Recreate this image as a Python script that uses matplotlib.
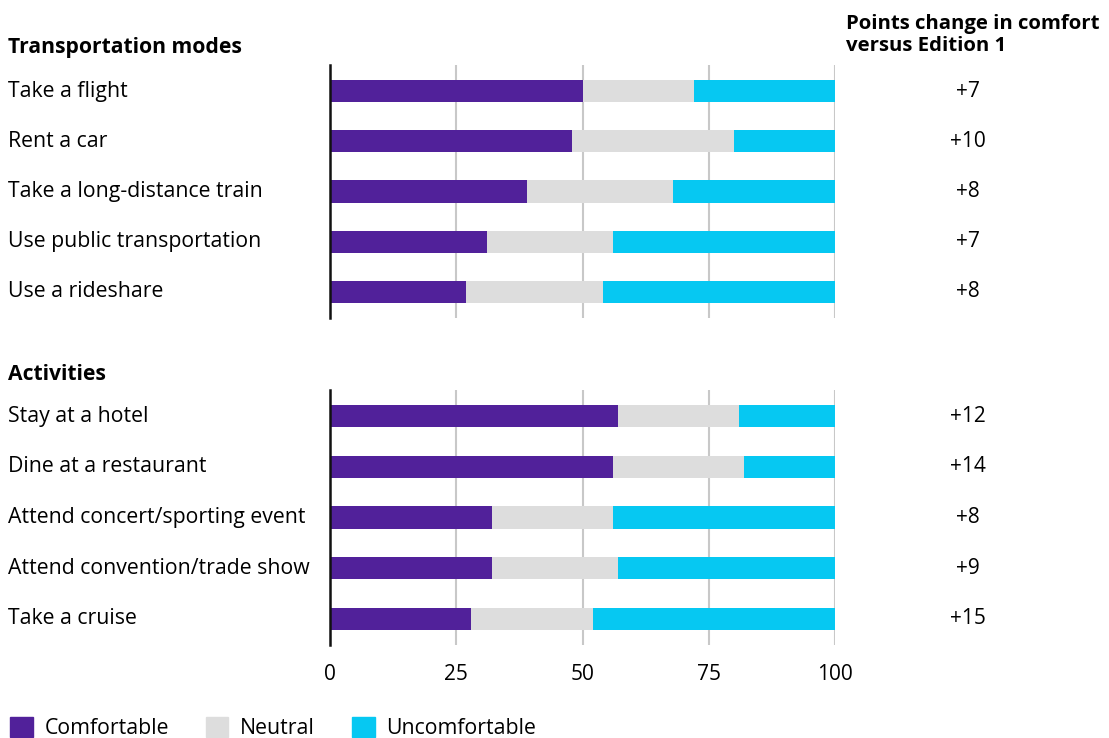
import matplotlib.pyplot as plt
import matplotlib.transforms as mtransforms
from matplotlib.patches import Patch

plt.rcParams['font.family'] = ['Open Sans', 'Noto Sans', 'DejaVu Sans']

# comfort survey shares (percent)
transport_labels = ["Take a flight", "Rent a car", "Take a long-distance train",
                    "Use public transportation", "Use a rideshare"]
transport_comfortable = [50, 48, 39, 31, 27]
transport_neutral = [22, 32, 29, 25, 27]
transport_uncomfortable = [28, 20, 32, 44, 46]
transport_change = ["+7", "+10", "+8", "+7", "+8"]

activity_labels = ["Stay at a hotel", "Dine at a restaurant", "Attend concert/sporting event",
                   "Attend convention/trade show", "Take a cruise"]
activity_comfortable = [57, 56, 32, 32, 28]
activity_neutral = [24, 26, 24, 25, 24]
activity_uncomfortable = [19, 18, 44, 43, 48]
activity_change = ["+12", "+14", "+8", "+9", "+15"]

C_COMF = "#51219A"
C_NEUT = "#DDDDDD"
C_UNC = "#06C8F2"
FS = 15.3

W, H = 1109, 738
fig = plt.figure(figsize=(W / 100, H / 100), dpi=100)


def px_axes(x0, y0, x1, y1):
    # y measured from the top of the figure in pixels
    return fig.add_axes([x0 / W, 1 - y1 / H, (x1 - x0) / W, (y1 - y0) / H])


def draw_panel(ax, labels, comf, neut, unc, change, show_ticks):
    y = list(range(len(labels)))
    h = 0.44
    ax.barh(y, comf, height=h, color=C_COMF, zorder=3)
    ax.barh(y, neut, left=comf, height=h, color=C_NEUT, zorder=3)
    left2 = [a + b for a, b in zip(comf, neut)]
    ax.barh(y, unc, left=left2, height=h, color=C_UNC, zorder=3)
    ax.set_xlim(0, 100)
    ax.set_ylim(len(labels) - 0.48, -0.52)
    ax.set_xticks([0, 25, 50, 75, 100])
    ax.grid(axis='x', color='#C8C8C8', linewidth=1.5, zorder=0)
    for s in ['top', 'right', 'bottom']:
        ax.spines[s].set_visible(False)
    ax.spines['left'].set_linewidth(1.8)
    ax.spines['left'].set_color('#111111')
    ax.spines['left'].set_zorder(4)
    ax.set_yticks([])
    ax.tick_params(axis='x', length=0, pad=14, labelsize=15)
    if not show_ticks:
        ax.set_xticklabels([])
    tr = mtransforms.blended_transform_factory(fig.transFigure, ax.transData)
    for yi, lab, ch in zip(y, labels, change):
        ax.text(8 / W, yi, lab, transform=tr, ha='left', va='center', fontsize=FS)
        ax.text(968 / W, yi, ch, transform=tr, ha='center', va='center', fontsize=15)


ax1 = px_axes(330, 65, 835, 318)
draw_panel(ax1, transport_labels, transport_comfortable, transport_neutral,
           transport_uncomfortable, transport_change, False)
ax2 = px_axes(330, 390, 835, 645)
draw_panel(ax2, activity_labels, activity_comfortable, activity_neutral,
           activity_uncomfortable, activity_change, True)

fig.text(8 / W, 1 - 48 / H, "Transportation modes", fontsize=15.2, fontweight='bold',
         ha='left', va='center')
fig.text(8 / W, 1 - 374 / H, "Activities", fontsize=15.2, fontweight='bold',
         ha='left', va='center')
fig.text(846 / W, 1 - 35 / H, "Points change in comfort\nversus Edition 1", fontsize=14.7,
         fontweight='bold', ha='left', va='center', linespacing=1.15)

handles = [Patch(color=C_COMF, label="Comfortable"),
           Patch(color=C_NEUT, label="Neutral"),
           Patch(color=C_UNC, label="Uncomfortable")]
fig.legend(handles=handles, loc='lower left', bbox_to_anchor=(-0.004, -0.022), ncol=3,
           frameon=False, fontsize=FS, handlelength=1.05, handleheight=1.05,
           handletextpad=0.55, columnspacing=1.75, borderaxespad=0.3)

fig.savefig("out.png", dpi=100)
